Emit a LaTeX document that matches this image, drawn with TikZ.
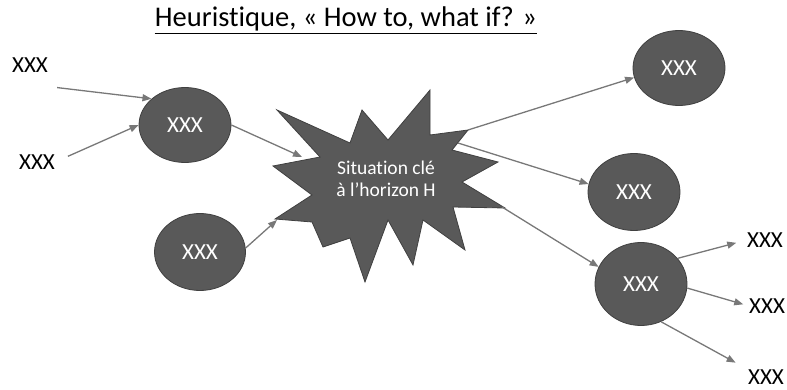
\documentclass[tikz,border=0pt]{standalone}
\usepackage{fontspec}
\setmainfont{Carlito}[Ligatures=NoCommon]
\usetikzlibrary{arrows.meta,shapes.geometric,calc}
\definecolor{blobfill}{RGB}{89,89,89}
\definecolor{blobdraw}{RGB}{64,64,64}
\definecolor{arrowgray}{RGB}{120,120,120}
\begin{document}
\begin{tikzpicture}[x=1pt,y=-1pt,
  blob/.style={ellipse,fill=blobfill,draw=blobdraw,line width=0.8pt,inner sep=0pt,
    text=white,font=\fontsize{23}{26}\selectfont,minimum width=92pt},
  lbl/.style={inner sep=0pt,text=black,font=\fontsize{23}{26}\selectfont},
  conn/.style={draw=arrowgray,line width=1.3pt,-{Triangle[length=9pt,width=7pt]}},
  burst/.style={fill=blobfill,draw=blobdraw,line width=0.8pt,line join=miter}]
\useasboundingbox (0,0) rectangle (787,390);
% title
\node[inner sep=0pt,anchor=base,font=\fontsize{28.5}{32}\selectfont] (title) at (346,27) {Heuristique, « How to, what if? »};
\draw[line width=1.3pt] ([yshift=-6.5pt]title.base west) -- ([yshift=-6.5pt]title.base east);
% explosion
\path[burst] (277,110) -- (350,143) -- (362,110) -- (388,140) -- (430,90) -- (430,135)
  -- (468,130) -- (452,150) -- (498,162) -- (462,182) -- (505,208) -- (453,207)
  -- (465,250) -- (423,220) -- (413,265) -- (388,220) -- (365,282) -- (350,238)
  -- (323,247) -- (312,222) -- (275,219) -- (312,195) -- (273,166) -- (320,157) -- cycle;
\node[align=center,text=white,inner sep=0pt,font=\fontsize{19.5}{22}\selectfont] (star) at (386,179) {Situation clé\\à l’horizon H};
\coordinate (sA) at (468,130);
\coordinate (sB) at (458,143);
\coordinate (sC) at (502,207);
\coordinate (tA) at (302,157);
\coordinate (tB) at (277,220);
% ellipses
\node[blob,minimum height=75pt] (e1) at (185,125) {XXX};
\node[blob,minimum width=91pt,minimum height=77pt] (e2) at (200,252) {XXX};
\node[blob,minimum height=75pt] (e3) at (679,68) {XXX};
\node[blob,minimum height=77pt] (e4) at (634,192) {XXX};
\node[blob,minimum height=83pt] (e5) at (641,284) {XXX};
% labels
\node[lbl] (x1) at (30,65) {XXX};
\node[lbl] (x2) at (37,162) {XXX};
\node[lbl] (x3) at (765,240) {XXX};
\node[lbl,anchor=west] (x4) at (749,306) {XXX};
\node[lbl] (x5) at (766,377) {XXX};
% connectors
\draw[conn] ($(x1.south east)+(9,15)$) -- (e1.142);
\draw[conn,shorten <=14pt] (x2.east) -- (e1.west);
\draw[conn] (e1.east) -- (tA);
\draw[conn] (e2.5) -- (tB);
\draw[conn] (sA) -- (e3.192);
\draw[conn] (sB) -- (e4.170);
\draw[conn] (sC) -- (e5.158);
\draw[conn,shorten >=11pt] (e5.35) -- (x3.west);
\draw[conn,shorten >=6pt] (e5.-5) -- (x4.west);
\draw[conn,shorten >=14pt] (e5.-62) -- (x5.north west);
\end{tikzpicture}
\end{document}
